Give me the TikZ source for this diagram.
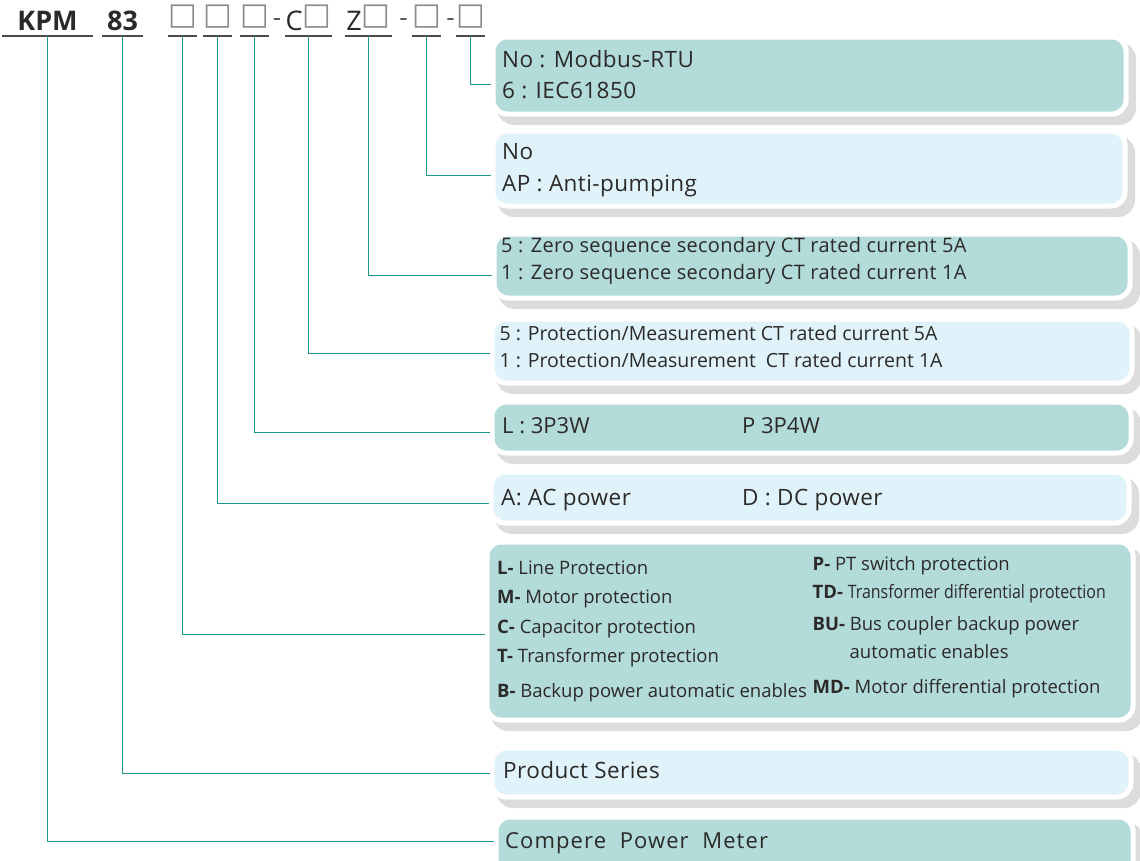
\documentclass[tikz,border=0pt]{standalone}
\usepackage{fontspec}
\setmainfont{Open Sans}
\newfontfamily\symfont{DejaVu Sans}
\newfontfamily\narrowfont[FakeStretch=0.86]{Open Sans}
\definecolor{teal1}{HTML}{B3DBD9}
\definecolor{sky1}{HTML}{E1F3FA}
\definecolor{shade1}{HTML}{DCDCDC}
\definecolor{link1}{HTML}{1C978C}
\definecolor{ink}{HTML}{2B2A29}
\tikzset{
  kpm/box/.style={rectangle, rounded corners=14pt, draw=white, line width=5pt,
    inner sep=0pt, anchor=north west,
    preaction={draw=shade1, fill=shade1, line width=6pt,
      transform canvas={xshift=7pt, yshift=-8pt}}},
  kpm/teal/.style={kpm/box, fill=teal1},
  kpm/sky/.style={kpm/box, fill=sky1},
  kpm/txt/.style={anchor=base west, inner sep=0pt, text=ink},
  kpm/slot/.style={anchor=south, inner sep=0pt, text height=19pt, text depth=5.5pt,
    text=ink, font=\fontsize{27}{27}\selectfont},
  kpm/dash/.style={anchor=base, inner sep=0pt, text=ink!80, font=\fontsize{26}{26}\selectfont},
  kpm/link/.style={link1, line width=1.5pt},
  kpm/rule/.style={ink!85, line width=1.4pt}
}
\newcommand{\sq}{\raisebox{5.5pt}{\color{black!45}\symfont\fontsize{30.5}{30.5}\selectfont □}}

\begin{document}
\begin{tikzpicture}[x=1pt, y=-1pt]
  \useasboundingbox (0,0) rectangle (1140,860);

  % ordering code
  \node[kpm/slot, minimum width=91pt] (u1) at (47.5,36) {\bfseries KPM};
  \node[kpm/slot, minimum width=41pt] (u2) at (122.5,36) {\bfseries 83};
  \node[kpm/slot, minimum width=27pt] (u3) at (182.5,36) {\sq};
  \node[kpm/slot, minimum width=27pt] (u4) at (217.5,36) {\sq};
  \node[kpm/slot, minimum width=27pt] (u5) at (254.5,36) {\sq};
  \node[kpm/slot, minimum width=47pt] (u6) at (308.5,36) {C\sq};
  \node[kpm/slot, minimum width=47pt] (u7) at (368.5,36) {Z\sq};
  \node[kpm/slot, minimum width=27pt] (u8) at (426.5,36) {\sq};
  \node[kpm/slot, minimum width=27pt] (u9) at (470.5,36) {\sq};
  \node[kpm/dash] (d1) at (277,26) {-};
  \node[kpm/dash] (d2) at (403.5,26) {-};
  \node[kpm/dash] (d3) at (450.5,26) {-};
  \foreach \u in {u1,u2,u3,u4,u5,u6,u7,u8,u9}
    \draw[kpm/rule] (\u.south west) -- (\u.south east);

  % option boxes
  \node[kpm/teal, minimum width=633pt, minimum height=77pt] (mb) at (490.5,34.5) {};
  \node[kpm/sky, minimum width=632pt, minimum height=75pt] (ap) at (490.5,128.5) {};
  \node[kpm/teal, minimum width=636pt, minimum height=64pt] (zs) at (491.5,231.5) {};
  \node[kpm/sky, minimum width=640pt, minimum height=64pt] (pm) at (489.5,316.5) {};
  \node[kpm/teal, minimum width=639pt, minimum height=51pt] (wir) at (489.5,399.5) {};
  \node[kpm/sky, minimum width=638pt, minimum height=51pt] (pwr) at (488.5,469.5) {};
  \node[kpm/teal, minimum width=646pt, minimum height=178pt] (app) at (484.5,539.5) {};
  \node[kpm/sky, minimum width=639pt, minimum height=49pt] (ser) at (489.5,745.5) {};
  \node[kpm/teal, minimum width=637pt, minimum height=70pt] (mtr) at (493.5,814.5) {};

  \foreach \u/\b/\d in {u1/mtr/10.5, u2/ser/-1, u3/app/-3.5, u4/pwr/-6, u5/wir/-5,
      u6/pm/-2.5, u7/zs/-9.5, u8/ap/-7, u9/mb/-9}
    \draw[kpm/link] (\u.south) |- ([yshift=\d pt]\b.west);

  % texts
  \begin{scope}[every node/.append style={kpm/txt, font=\fontsize{22.5}{22.5}\selectfont\addfontfeature{LetterSpace=2}}]
    \node (mb1) at (502,67.5) {No : Modbus-RTU};
    \node (mb2) at (502,98.5) {6 : IEC61850};
    \node (ap1) at (502,159.5) {No};
    \node (ap2) at (502,191.5) {AP : Anti-pumping};
    \node (pwr1) at (501,505) {A: AC power};
    \node (pwr2) at (742,505) {D : DC power};
    \node (ser1) at (503,778.5) {Product Series};
  \end{scope}
  \begin{scope}[every node/.append style={kpm/txt, font=\fontsize{22}{22}\selectfont}]
    \node (wir1) at (502,433.5) {L : 3P3W};
    \node (wir2) at (742,433.5) {P 3P4W};
    \node (mtr1) at (505,848) {\addfontfeature{LetterSpace=5}Compere~ Power~ Meter};
  \end{scope}
  \begin{scope}[every node/.append style={kpm/txt, font=\fontsize{20}{20}\selectfont}]
    \node (zs1) at (501,252.5) {\addfontfeature{LetterSpace=1.5}5 : Zero sequence secondary CT rated current 5A};
    \node (zs2) at (501,279.5) {\addfontfeature{LetterSpace=1.5}1 : Zero sequence secondary CT rated current 1A};
  \end{scope}
  \begin{scope}[every node/.append style={kpm/txt, font=\fontsize{19.5}{19.5}\selectfont}]
    \node (pm1) at (499.5,340) {5 : Protection/Measurement CT rated current 5A};
    \node (pm2) at (499.5,367) {1 : Protection/Measurement~ CT rated current 1A};
  \end{scope}
  \begin{scope}[every node/.append style={kpm/txt, font=\fontsize{18.5}{18.5}\selectfont}]
    \node (app1) at (497,574.5) {\textbf{L-} Line Protection};
    \node (app2) at (497,603.5) {\textbf{M-} Motor protection};
    \node (app3) at (497,633) {\textbf{C-} Capacitor protection};
    \node (app4) at (497,662.5) {\textbf{T-} Transformer protection};
    \node (app5) at (497,697) {\textbf{B-} Backup power automatic enables};
    \node (app6) at (812.5,570) {\textbf{P-} PT switch protection};
    \node (app7) at (812.5,598) {\textbf{TD-} {\narrowfont Transformer differential protection}};
    \node (app8) at (812.5,630) {\textbf{BU-} Bus coupler backup power};
    \node (app9) at (849.5,658) {automatic enables};
    \node (app10) at (812.5,693) {\textbf{MD-} Motor differential protection};
  \end{scope}
\end{tikzpicture}
\end{document}
